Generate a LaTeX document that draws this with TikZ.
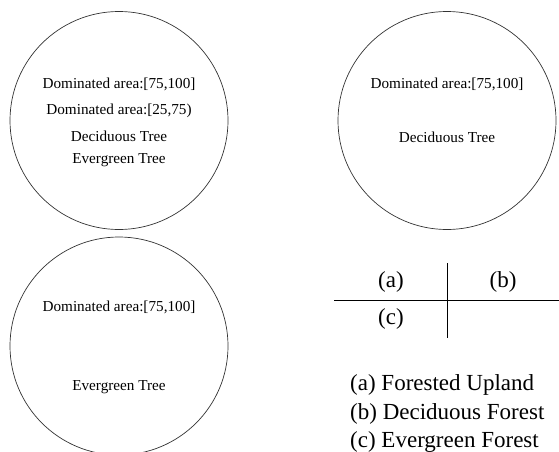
\documentclass[tikz,border=0pt]{standalone}
\usepackage{fontspec}
\setmainfont{Liberation Serif}
\usepackage{tikz}
\usetikzlibrary{positioning}

\begin{document}
\begin{tikzpicture}[x=1pt,y=1pt,
    region/.style={draw=black!80,circle,line width=0.7pt,minimum size=218pt,inner sep=0pt},
    lbl/.style={anchor=base,inner sep=0pt,font=\fontsize{15.2}{18}\selectfont},
    key/.style={anchor=base,inner sep=0pt,font=\fontsize{23}{27}\selectfont},
    grid/.style={line width=1pt}]
    \useasboundingbox (0,0) rectangle (559,451);
    \node[region] (up) at (119,330.5) {};
    \node[region] (dec) at (447,330.5) {};
    \node[region] (evg) at (119,105) {};
    \node[lbl] (up1) at (119,363) {Dominated area:[75,100]};
    \node[lbl] (up2) at (119,337) {Dominated area:[25,75)};
    \node[lbl] (up3) at (119,310) {Deciduous Tree};
    \node[lbl] (up4) at (119,288) {Evergreen Tree};
    \node[lbl] (dec1) at (447,363) {Dominated area:[75,100]};
    \node[lbl] (dec2) at (447,309) {Deciduous Tree};
    \node[lbl] (evg1) at (119,140) {Dominated area:[75,100]};
    \node[lbl] (evg2) at (119,61) {Evergreen Tree};
    \coordinate (hl) at (334,151);
    \coordinate (hr) at (559,151);
    \coordinate (vt) at (447,188);
    \coordinate (vb) at (447,113);
    \draw[grid] (hl) -- (hr);
    \draw[grid] (vt) -- (vb);
    \node[key] (ta) at (391,164) {(a)};
    \node[key] (tb) at (503,164) {(b)};
    \node[key] (tc) at (391,127) {(c)};
    \node[key,anchor=base west] (ka) at (350,61) {(a) Forested Upland};
    \node[key,anchor=base west] (kb) at (350,32) {(b) Deciduous Forest};
    \node[key,anchor=base west] (kc) at (350,4) {(c) Evergreen Forest};
  \end{tikzpicture}
\end{document}
